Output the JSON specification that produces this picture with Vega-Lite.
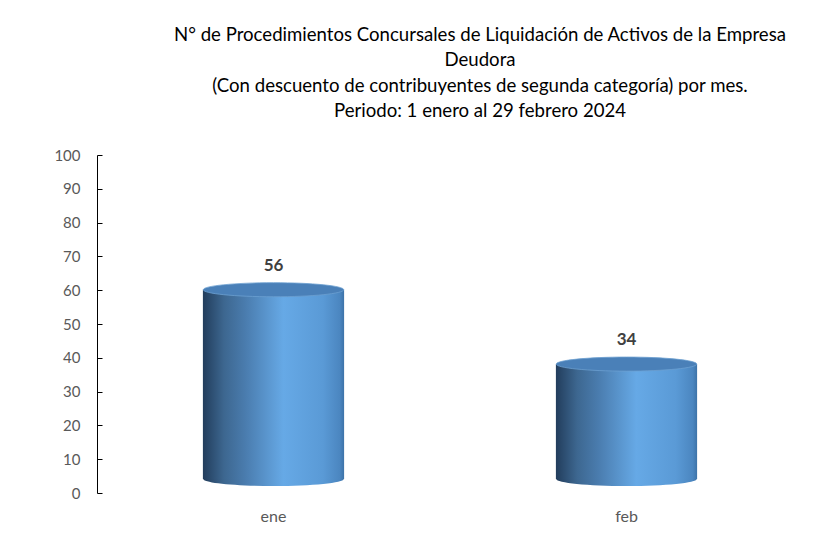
{
  "$schema": "https://vega.github.io/schema/vega-lite/v6.json",
  "autosize": {"type": "none"},
  "padding": {"left": 97, "top": 155, "right": 18, "bottom": 52},
  "width": 706,
  "height": 338,
  "background": "white",
  "config": {"view": {"stroke": null}},
  "title": {
    "text": ["N° de Procedimientos Concursales de Liquidación de Activos de la Empresa", "Deudora", "(Con descuento de contribuyentes de segunda categoría) por mes.", "Periodo: 1 enero al 29 febrero 2024"],
    "anchor": "middle",
    "frame": "group",
    "dx": 30,
    "offset": 27,
    "font": "Lato",
    "fontSize": 18.6,
    "fontWeight": "normal",
    "color": "#000000",
    "lineHeight": 25.5
  },
  "data": {"values": [
    {"mes": "ene", "valor": 56},
    {"mes": "feb", "valor": 34}
  ]},
  "encoding": {
    "x": {
      "field": "mes", "type": "nominal", "sort": null,
      "scale": {"paddingInner": 0.6, "paddingOuter": 0.3},
      "axis": {"title": null, "domain": false, "ticks": false, "labelAngle": 0, "labelPadding": 15, "labelFont": "Lato", "labelFontSize": 16, "labelColor": "#595959"}
    }
  },
  "layer": [
    {
      "mark": {"type": "point", "filled": true, "size": 19740, "opacity": 1, "yOffset": -14,
        "shape": "M -1 0 A 1 0.1 0 1 0 1 0 A 1 0.1 0 1 0 -1 0 Z",
        "color": {"gradient": "linear", "x1": 0, "x2": 1, "y1": 0, "y2": 0,
          "stops": [
            {"offset": 0, "color": "#223d5c"},
            {"offset": 0.15, "color": "#3d6790"},
            {"offset": 0.3, "color": "#4a7cae"},
            {"offset": 0.57, "color": "#66a9e6"},
            {"offset": 0.85, "color": "#5a9ad6"},
            {"offset": 0.97, "color": "#4b86c0"},
            {"offset": 1, "color": "#3d73a8"}
          ]}
      },
      "encoding": {"y": {"datum": 0, "type": "quantitative",
        "scale": {"domain": [0, 100], "nice": false},
        "axis": {"title": null, "values": [0, 10, 20, 30, 40, 50, 60, 70, 80, 90, 100], "labelOverlap": false, "grid": false, "domainColor": "#000000", "domainWidth": 1, "tickColor": "#000000", "tickWidth": 1, "tickSize": -5, "labelPadding": 22, "labelFont": "Lato", "labelFontSize": 15, "labelColor": "#595959"}}}
    },
    {
      "mark": {"type": "bar", "yOffset": -14, "y2Offset": -14,
        "color": {"gradient": "linear", "x1": 0, "x2": 1, "y1": 0, "y2": 0,
          "stops": [
            {"offset": 0, "color": "#223d5c"},
            {"offset": 0.15, "color": "#3d6790"},
            {"offset": 0.3, "color": "#4a7cae"},
            {"offset": 0.57, "color": "#66a9e6"},
            {"offset": 0.85, "color": "#5a9ad6"},
            {"offset": 0.97, "color": "#4b86c0"},
            {"offset": 1, "color": "#3d73a8"}
          ]}
      },
      "encoding": {"y": {"field": "valor", "type": "quantitative",
        "axis": {"title": null, "values": [0, 10, 20, 30, 40, 50, 60, 70, 80, 90, 100], "labelOverlap": false, "grid": false, "domainColor": "#000000", "domainWidth": 1, "tickColor": "#000000", "tickWidth": 1, "tickSize": -5, "labelPadding": 22, "labelFont": "Lato", "labelFontSize": 15, "labelColor": "#595959"}}}
    },
    {
      "mark": {"type": "point", "filled": true, "size": 19740, "opacity": 1, "yOffset": -14,
        "shape": "M -1 0 A 1 0.1 0 1 0 1 0 A 1 0.1 0 1 0 -1 0 Z",
        "color": "#4a80b8", "stroke": "#6c9fd0", "strokeWidth": 0.8, "strokeOpacity": 1
      },
      "encoding": {"y": {"field": "valor", "type": "quantitative",
        "axis": {"title": null, "values": [0, 10, 20, 30, 40, 50, 60, 70, 80, 90, 100], "labelOverlap": false, "grid": false, "domainColor": "#000000", "domainWidth": 1, "tickColor": "#000000", "tickWidth": 1, "tickSize": -5, "labelPadding": 22, "labelFont": "Lato", "labelFontSize": 15, "labelColor": "#595959"}}}
    },
    {
      "mark": {"type": "text", "dy": -38, "font": "Lato", "fontSize": 17, "fontWeight": "bold", "color": "#404040"},
      "encoding": {
        "y": {"field": "valor", "type": "quantitative",
          "axis": {"title": null, "values": [0, 10, 20, 30, 40, 50, 60, 70, 80, 90, 100], "labelOverlap": false, "grid": false, "domainColor": "#000000", "domainWidth": 1, "tickColor": "#000000", "tickWidth": 1, "tickSize": -5, "labelPadding": 22, "labelFont": "Lato", "labelFontSize": 15, "labelColor": "#595959"}},
        "text": {"field": "valor", "type": "quantitative"}
      }
    }
  ]
}
